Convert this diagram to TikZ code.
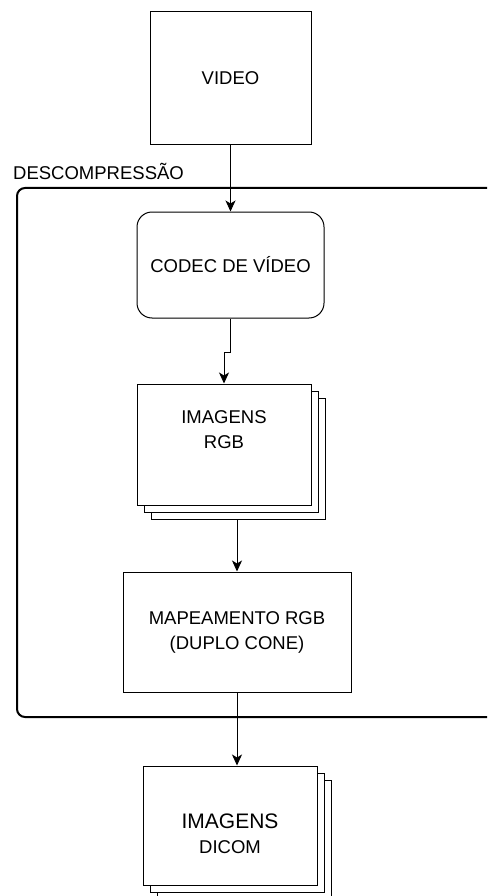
\documentclass[tikz,border=0pt]{standalone}
\usepackage{fontspec}
\setmainfont{Liberation Sans}
\usetikzlibrary{arrows.meta,shadows}

\begin{document}
\begin{tikzpicture}[x=1pt,y=-1pt,
  font=\fontsize{18.5}{25}\selectfont,
  box/.style={draw,line width=1pt,fill=white,inner sep=0pt,align=center},
  stackbox/.style={box,
    copy shadow={shadow xshift=14pt,shadow yshift=-14pt,draw=black,fill=white,line width=1pt},
    copy shadow={shadow xshift=7pt,shadow yshift=-7pt,draw=black,fill=white,line width=1pt}},
  flow/.style={draw,line width=1pt,-{Stealth[length=11pt,width=10pt,inset=3pt]}},
  groupbox/.style={draw,line width=2pt,rounded corners=8pt}]

 \path[use as bounding box,clip] (0,0) rectangle (487,896);

 \draw[groupbox] (17,188) rectangle (530,717); % area da descompressao
 \node[anchor=base west,inner sep=0pt] (grp) at (13,180) {DESCOMPRESSÃO};

 \node[box,minimum width=161,minimum height=133] (video) at (230.5,78.5) {VIDEO};
 \node[box,rounded corners=15pt,minimum width=187,minimum height=106] (codec) at (230.5,265) {CODEC DE VÍDEO};
 \node[stackbox,minimum width=174,minimum height=121] (rgb) at (224,444.5) {IMAGENS\\RGB\\[5pt]};
 \node[box,minimum width=228,minimum height=120] (map) at (237,632) {MAPEAMENTO RGB\\(DUPLO CONE)};
 \node[stackbox,minimum width=174,minimum height=119] (dicom) at (230,825.5) {\\[6pt]{\fontsize{21}{25}\selectfont IMAGENS}\\DICOM};

 \draw[flow] (video.south) -- (codec.north);
 \draw[flow] (codec.south) -- ++(0,34) -| (rgb.north); % pequeno desvio
 \draw[flow] ([xshift=13pt,yshift=-14pt]rgb.south) -- (map.north);
 \draw[flow] (map.south) -- (map.south |- dicom.north);

\end{tikzpicture}
\end{document}
